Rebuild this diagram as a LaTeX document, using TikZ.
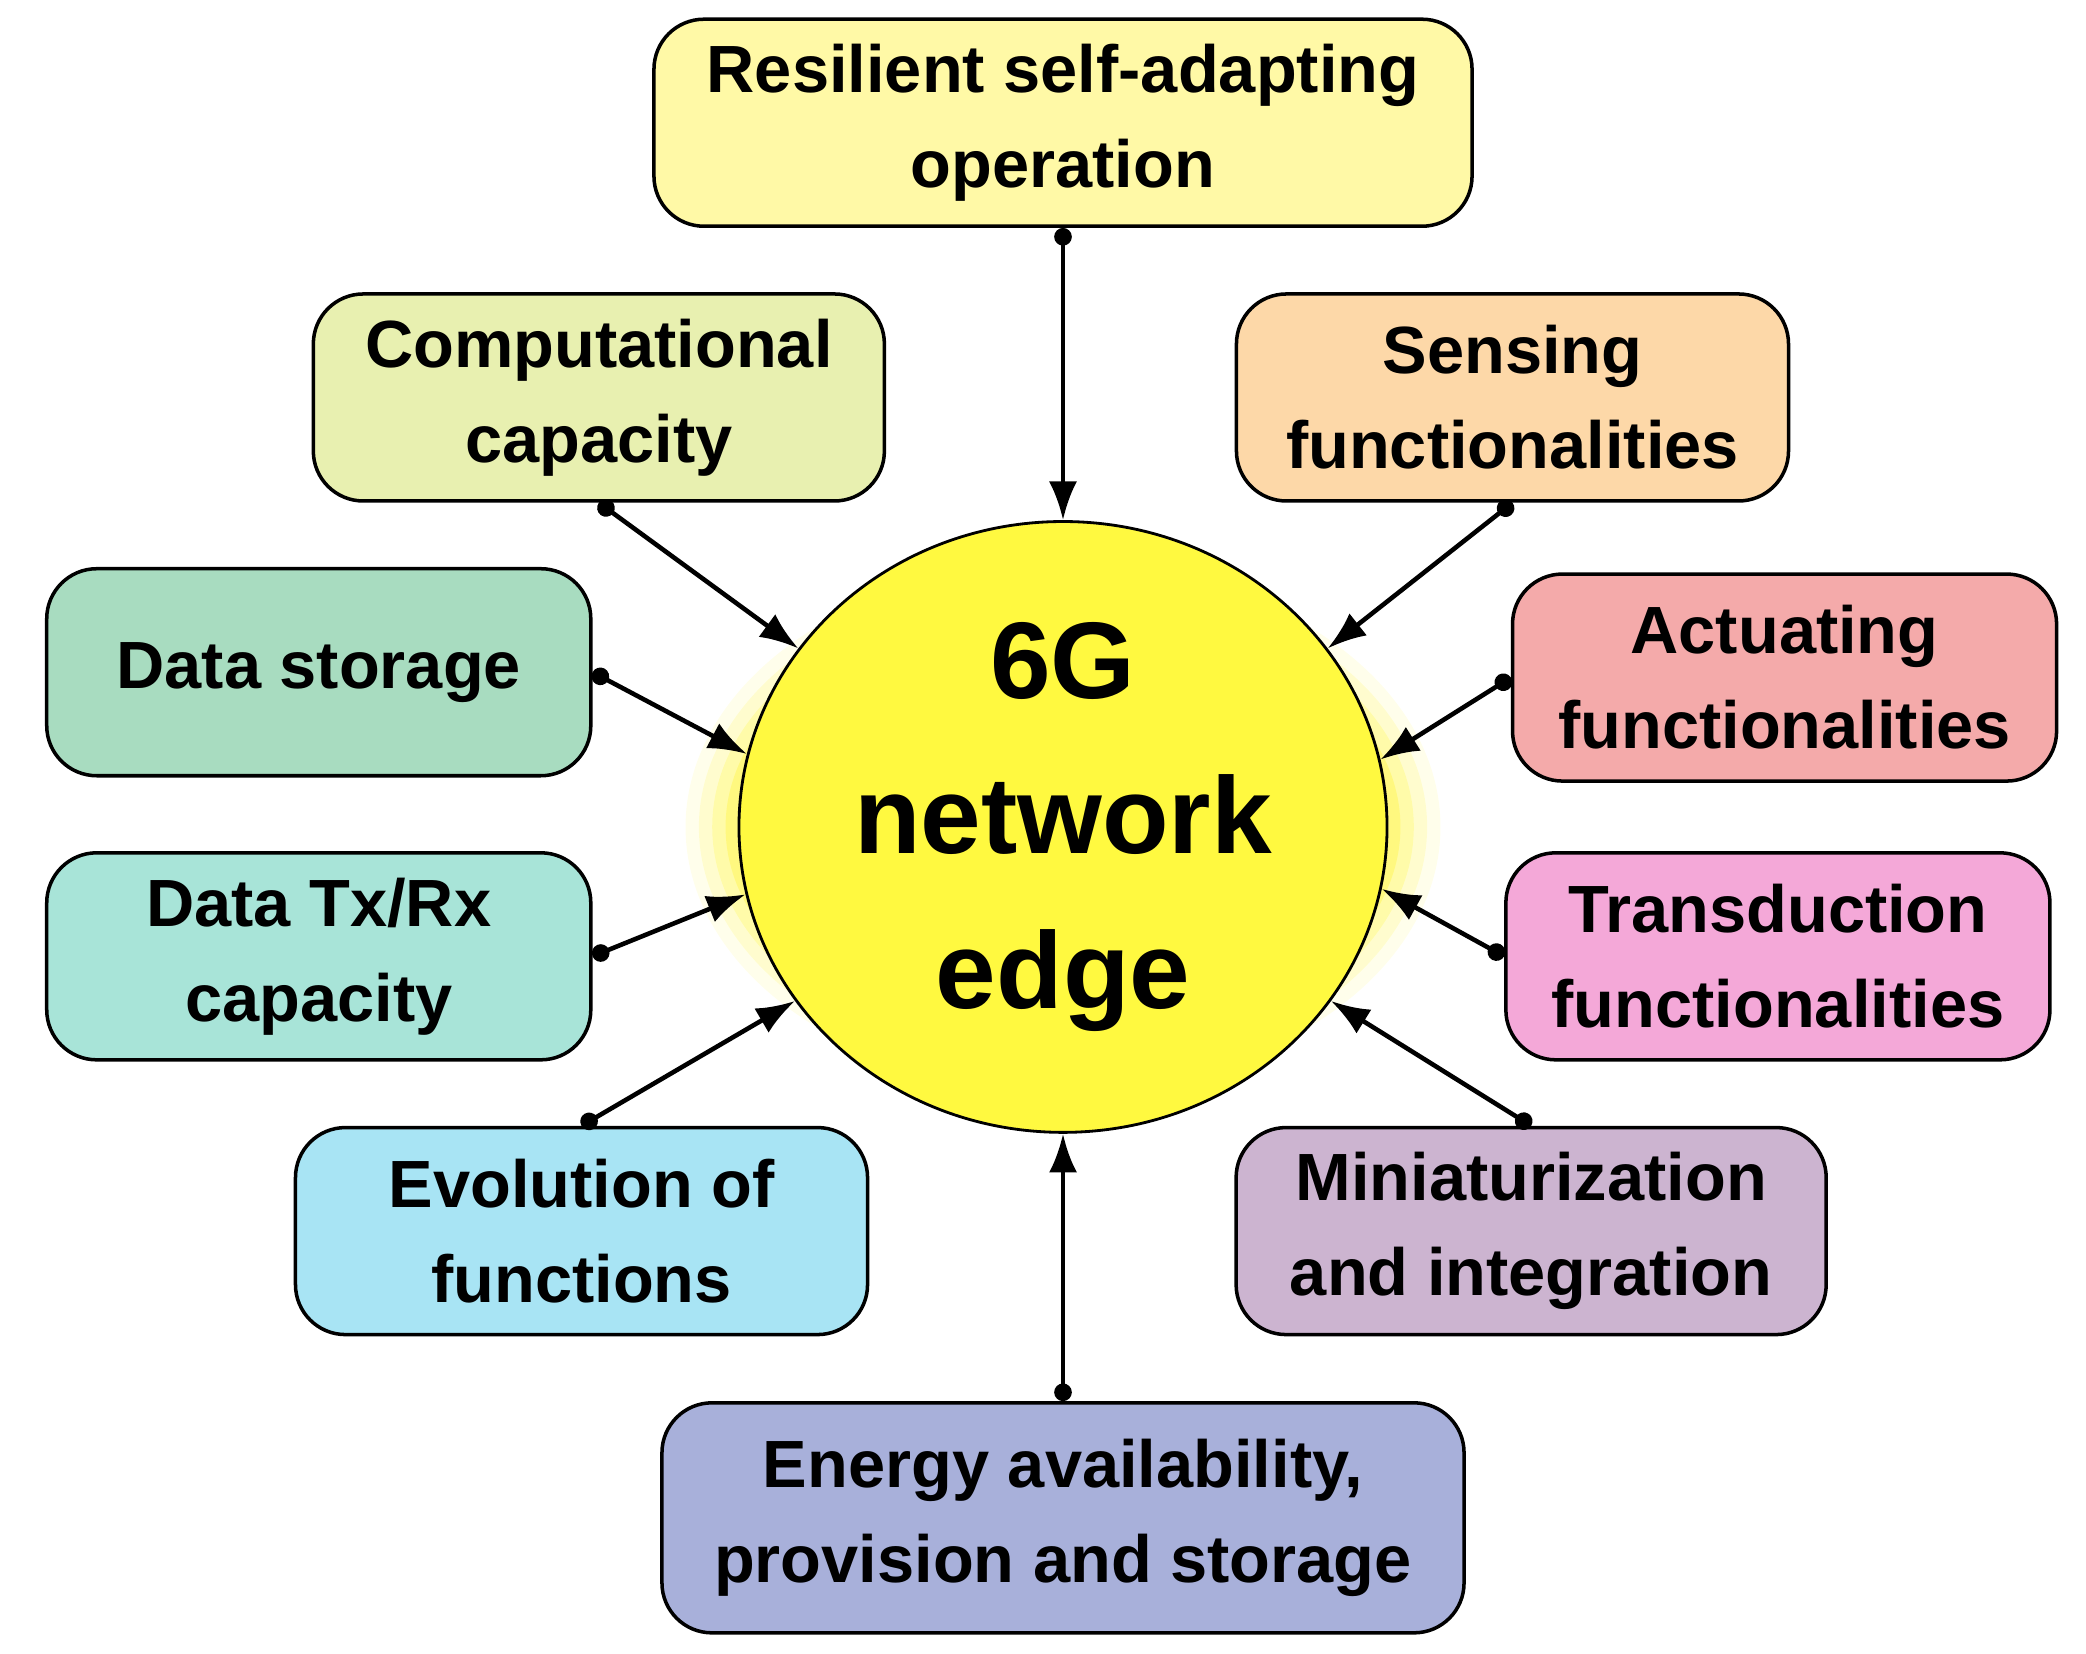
\documentclass[tikz,border=0pt]{standalone}
\usepackage{fontspec}
\setmainfont{Liberation Sans}
\usetikzlibrary{shapes.geometric,arrows.meta}
\begin{document}
\begin{tikzpicture}[x=0.01334cm,y=-0.01334cm,
  box/.style={draw=black,line width=1pt,rounded corners=0.5cm,align=center,font=\fontsize{19}{27}\selectfont\bfseries,inner sep=0pt},
  con/.style={line width=1.3pt,{Circle[length=5pt]}-{Latex[length=11pt,width=8pt]}}]
\useasboundingbox (0,0) rectangle (1564,1240);
\foreach \g/\o in {40/0.08,30/0.12,20/0.18,10/0.25}{
  \fill[yellow,opacity=\o] (797,620) ellipse ({243+\g} and {158+\g});}
\node[ellipse,draw,line width=0.8pt,fill={rgb,255:red,255;green,249;blue,64},minimum width=486\pgflinewidth*0+6.48cm,minimum height=4.21cm,align=center,font=\fontsize{31}{44}\selectfont\bfseries] (e) at (797,620) {6G\\network\\edge};
\node[box,fill={rgb,255:red,255;green,249;blue,166},minimum width=8.18cm,minimum height=2.07cm] (r) at (797,92) {Resilient self-adapting\\operation};
\node[box,fill={rgb,255:red,232;green,240;blue,176},minimum width=5.71cm,minimum height=2.07cm] (c) at (449,298) {Computational\\capacity};
\node[box,fill={rgb,255:red,253;green,216;blue,168},minimum width=5.52cm,minimum height=2.07cm] (s) at (1134,298) {Sensing\\functionalities};
\node[box,fill={rgb,255:red,168;green,220;blue,192},minimum width=5.44cm,minimum height=2.07cm] (d) at (239,504) {Data storage};
\node[box,fill={rgb,255:red,244;green,170;blue,170},minimum width=5.44cm,minimum height=2.07cm] (a) at (1338,508) {Actuating\\functionalities};
\node[box,fill={rgb,255:red,168;green,228;blue,216},minimum width=5.44cm,minimum height=2.07cm] (t) at (239,717) {Data Tx/Rx\\capacity};
\node[box,fill={rgb,255:red,244;green,168;blue,216},minimum width=5.44cm,minimum height=2.07cm] (tr) at (1333,717) {Transduction\\functionalities};
\node[box,fill={rgb,255:red,168;green,228;blue,244},minimum width=5.72cm,minimum height=2.07cm] (ev) at (436,923) {Evolution of\\functions};
\node[box,fill={rgb,255:red,204;green,180;blue,208},minimum width=5.9cm,minimum height=2.07cm] (m) at (1148,923) {Miniaturization\\and integration};
\node[box,fill={rgb,255:red,168;green,176;blue,218},minimum width=8.02cm,minimum height=2.3cm] (en) at (797,1138) {Energy availability,\\provision and storage};
\draw[con] (r.south) -- (e.90);
\draw[con] (c.south) -- (e.146);
\draw[con] (s.south) -- (e.34);
\draw[con] (d.east) -- (e.167);
\draw[con] (a.west) -- (e.12);
\draw[con] (t.east) -- (e.192);
\draw[con] (tr.west) -- (e.349);
\draw[con] (ev.north) -- (e.213);
\draw[con] (m.north) -- (e.327);
\draw[con] (en.north) -- (e.270);
\end{tikzpicture}
\end{document}
